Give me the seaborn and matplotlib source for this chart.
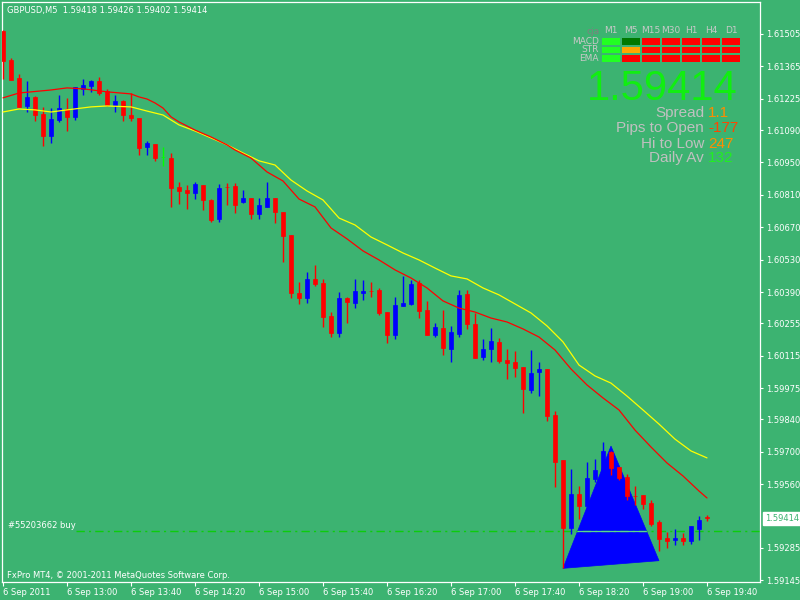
#!/usr/bin/env python3
# coding: utf-8

import numpy as np
import pandas as pd
import seaborn as sns
import matplotlib.pyplot as plt
from matplotlib.colors import ListedColormap
from matplotlib.patches import Polygon

# ------------------------------------------------
# Data (GBPUSD M5, 6 Sep 2011)
# ------------------------------------------------
symbol = "GBPUSD,M5"
times = pd.date_range("2011-09-06 12:20", "2011-09-06 19:40", freq="5min")

opens = [1.61518, 1.61393, 1.61315, 1.61194, 1.61233, 1.61160, 1.61066, 1.61134, 1.61181, 1.61147,
         1.61268, 1.61281, 1.61302, 1.61259, 1.61198, 1.61216, 1.61155, 1.61142, 1.61017, 1.61030,
         1.60974, 1.60970, 1.60844, 1.60831, 1.60820, 1.60853, 1.60788, 1.60707, 1.60844, 1.60848,
         1.60781, 1.60797, 1.60729, 1.60759, 1.60797, 1.60736, 1.60637, 1.60386, 1.60366, 1.60447,
         1.60429, 1.60288, 1.60215, 1.60366, 1.60343, 1.60386, 1.60395, 1.60399, 1.60305, 1.60206,
         1.60331, 1.60339, 1.60429, 1.60313, 1.60206, 1.60235, 1.60146, 1.60210, 1.60382, 1.60252,
         1.60111, 1.60146, 1.60176, 1.60098, 1.60089, 1.60068, 1.59968, 1.60046, 1.60059, 1.59859,
         1.59665, 1.59372, 1.59518, 1.59467, 1.59584, 1.59622, 1.59699, 1.59635, 1.59593, 1.59511,
         1.59514, 1.59479, 1.59398, 1.59329, 1.59320, 1.59329, 1.59316, 1.59368, 1.59418]
highs = [1.61522, 1.61401, 1.61332, 1.61302, 1.61237, 1.61190, 1.61185, 1.61242, 1.61229, 1.61275,
         1.61311, 1.61306, 1.61319, 1.61268, 1.61242, 1.61220, 1.61250, 1.61142, 1.61043, 1.61030,
         1.61017, 1.60991, 1.60866, 1.60853, 1.60866, 1.60853, 1.60792, 1.60857, 1.60861, 1.60861,
         1.60831, 1.60797, 1.60797, 1.60866, 1.60797, 1.60736, 1.60637, 1.60434, 1.60477, 1.60507,
         1.60447, 1.60304, 1.60392, 1.60370, 1.60447, 1.60442, 1.60434, 1.60408, 1.60305, 1.60369,
         1.60460, 1.60442, 1.60442, 1.60352, 1.60257, 1.60313, 1.60244, 1.60399, 1.60399, 1.60300,
         1.60188, 1.60235, 1.60192, 1.60146, 1.60137, 1.60068, 1.60141, 1.60089, 1.60059, 1.59877,
         1.59665, 1.59626, 1.59552, 1.59656, 1.59670, 1.59743, 1.59704, 1.59635, 1.59606, 1.59552,
         1.59514, 1.59492, 1.59407, 1.59354, 1.59368, 1.59351, 1.59381, 1.59424, 1.59426]
lows = [1.61311, 1.61306, 1.61190, 1.61168, 1.61131, 1.61023, 1.61036, 1.61125, 1.61086, 1.61135,
        1.61242, 1.61255, 1.61242, 1.61194, 1.61168, 1.61129, 1.61129, 1.60982, 1.60982, 1.60958,
        1.60935, 1.60759, 1.60772, 1.60750, 1.60794, 1.60746, 1.60694, 1.60694, 1.60766, 1.60733,
        1.60776, 1.60707, 1.60707, 1.60759, 1.60690, 1.60521, 1.60366, 1.60340, 1.60344, 1.60418,
        1.60241, 1.60197, 1.60197, 1.60258, 1.60323, 1.60357, 1.60369, 1.60293, 1.60172, 1.60189,
        1.60331, 1.60334, 1.60280, 1.60206, 1.60197, 1.60120, 1.60089, 1.60197, 1.60232, 1.60107,
        1.60098, 1.60089, 1.60085, 1.60016, 1.60025, 1.59869, 1.59955, 1.59943, 1.59835, 1.59550,
        1.59200, 1.59346, 1.59411, 1.59449, 1.59570, 1.59613, 1.59601, 1.59580, 1.59493, 1.59472,
        1.59454, 1.59381, 1.59273, 1.59286, 1.59299, 1.59299, 1.59303, 1.59320, 1.59402]
closes = [1.61390, 1.61306, 1.61191, 1.61233, 1.61155, 1.61066, 1.61138, 1.61185, 1.61147, 1.61275,
          1.61285, 1.61302, 1.61249, 1.61198, 1.61216, 1.61155, 1.61142, 1.61013, 1.61034, 1.60971,
          1.60974, 1.60841, 1.60828, 1.60820, 1.60857, 1.60789, 1.60703, 1.60840, 1.60842, 1.60768,
          1.60797, 1.60729, 1.60766, 1.60797, 1.60737, 1.60634, 1.60388, 1.60366, 1.60447, 1.60426,
          1.60284, 1.60215, 1.60366, 1.60349, 1.60395, 1.60395, 1.60393, 1.60301, 1.60206, 1.60334,
          1.60343, 1.60425, 1.60310, 1.60206, 1.60239, 1.60150, 1.60218, 1.60378, 1.60254, 1.60107,
          1.60146, 1.60180, 1.60094, 1.60085, 1.60064, 1.59973, 1.60042, 1.60059, 1.59856, 1.59657,
          1.59372, 1.59518, 1.59467, 1.59588, 1.59623, 1.59704, 1.59631, 1.59588, 1.59511, 1.59509,
          1.59476, 1.59390, 1.59325, 1.59316, 1.59329, 1.59316, 1.59381, 1.59407, 1.59414]

# moving averages, sampled along the drawn lines (bar index, price)
ma_red_bar = [0, 2, 6, 8, 10, 13, 16, 17, 18, 19, 20, 21, 22, 24, 26, 28, 29, 31, 33, 35, 37, 39,
              41, 43, 45, 47, 49, 51, 53, 55, 57, 59, 61, 63, 65, 67, 69, 71, 73, 75, 77, 79, 81,
              83, 85, 87, 88]
ma_red = [1.61229, 1.61250, 1.61263, 1.61272, 1.61268, 1.61255, 1.61246, 1.61233, 1.61224, 1.61207,
          1.61185, 1.61147, 1.61125, 1.61090, 1.61060, 1.61026, 1.61004, 1.60969, 1.60909, 1.60870,
          1.60792, 1.60758, 1.60667, 1.60620, 1.60568, 1.60529, 1.60486, 1.60451, 1.60408, 1.60352,
          1.60321, 1.60304, 1.60278, 1.60261, 1.60231, 1.60196, 1.60140, 1.60058, 1.59989, 1.59933,
          1.59881, 1.59794, 1.59721, 1.59652, 1.59596, 1.59531, 1.59501]
ma_yellow_bar = [0, 2, 4, 6, 8, 11, 13, 16, 18, 20, 22, 24, 26, 28, 30, 32, 34, 36, 38, 40, 42, 44,
                 46, 48, 50, 52, 54, 56, 58, 60, 62, 64, 66, 68, 70, 72, 74, 76, 78, 80, 82, 84,
                 86, 88]
ma_yellow = [1.61168, 1.61181, 1.61177, 1.61168, 1.61177, 1.61190, 1.61194, 1.61190, 1.61172,
             1.61155, 1.61112, 1.61086, 1.61056, 1.61026, 1.60991, 1.60957, 1.60939, 1.60874,
             1.60827, 1.60788, 1.60710, 1.60680, 1.60628, 1.60594, 1.60559, 1.60529, 1.60494,
             1.60460, 1.60447, 1.60408, 1.60378, 1.60339, 1.60300, 1.60244, 1.60175, 1.60075,
             1.60028, 1.59997, 1.59941, 1.59881, 1.59820, 1.59755, 1.59704, 1.59674]

# triangle object and open order
tri_bar = [70, 76, 82]
tri_price = [1.59197, 1.59725, 1.59230]
order_price = 1.59358
order_label = "#55203662 buy"

# axis ticks
ytick_vals = [1.61505, 1.61365, 1.61225, 1.61090, 1.60950, 1.60810, 1.60670, 1.60530, 1.60390,
              1.60255, 1.60115, 1.59975, 1.59840, 1.59700, 1.59560, 1.59285, 1.59145]
xtick_bars = [0, 8, 16, 24, 32, 40, 48, 56, 64, 72, 80, 88]
xtick_labels = ["6 Sep 2011", "6 Sep 13:00", "6 Sep 13:40", "6 Sep 14:20", "6 Sep 15:00",
                "6 Sep 15:40", "6 Sep 16:20", "6 Sep 17:00", "6 Sep 17:40", "6 Sep 18:20",
                "6 Sep 19:00", "6 Sep 19:40"]

# signal panel (0 = down, 1 = weak, 2 = neutral up, 3 = up)
timeframes = ["M1", "M5", "M15", "M30", "H1", "H4", "D1"]
signal_rows = ["MACD", "STR", "EMA"]
macd_sig = [3, 2, 0, 0, 0, 0, 0]
str_sig = [3, 1, 0, 0, 0, 0, 0]
ema_sig = [3, 0, 0, 0, 0, 0, 0]

info_labels = ["Spread", "Pips to Open", "Hi to Low", "Daily Av"]
info_values = ["1.1", "-177", "247", "132"]
info_colors = ["#FF8C00", "#FF4500", "#FF8C00", "#22EE22"]

# ------------------------------------------------
# Style
# ------------------------------------------------
BG = "#3CB371"
sns.set_theme(style="white", rc={
    "axes.facecolor": BG, "figure.facecolor": BG, "savefig.facecolor": BG,
    "axes.edgecolor": "white", "axes.linewidth": 0.9,
    "xtick.color": "white", "ytick.color": "white", "text.color": "white",
})
plt.rcParams["font.family"] = ["DejaVu Sans"]

fig = plt.figure(figsize=(8, 6), dpi=100)
ax = fig.add_axes([2 / 800, 18 / 600, 758 / 800, 580 / 600])

df = pd.DataFrame({"time": times, "open": opens, "high": highs, "low": lows, "close": closes})
df["bar"] = np.arange(len(df))
df["color"] = np.where(df.close > df.open, "#0000FF",
                       np.where(df.close < df.open, "#FF0000", "#00FF00"))

# triangle in the background
tri = Polygon(np.column_stack([tri_bar, tri_price]), closed=True, fc="#0000FF", ec="#0000FF",
              lw=0.5, zorder=1)
ax.add_patch(tri)

# order line (dash-dot), lighter where it crosses the triangle
ax.axhline(order_price, xmin=74 / 758, color="#0CCC0C", lw=1.0,
           ls=(0, (6, 3, 1.5, 3)), zorder=2)
inner = ax.axhline(order_price, color="#5CD88E", lw=0.9, zorder=2)
inner.set_clip_path(tri)

# candles
ax.vlines(df.bar, df.low, df.high, colors=df.color, lw=1.0, zorder=3)
body_lo = np.minimum(df.open, df.close)
body_h = (df.close - df.open).abs()
ax.bar(df.bar, body_h, bottom=body_lo, width=0.62, color=df.color,
       edgecolor=df.color, lw=0.5, zorder=4)

# moving averages
sns.lineplot(x=ma_yellow_bar, y=ma_yellow, color="#FFFF00", lw=0.9, ax=ax, zorder=5)
sns.lineplot(x=ma_red_bar, y=ma_red, color="#FF0000", lw=0.9, ax=ax, zorder=5)

ax.set_xlim(-0.125, 94.625)
ax.set_ylim(1.59138, 1.61643)
ax.grid(False)
for s in ax.spines.values():
    s.set_color("white")

ax.yaxis.tick_right()
ax.set_yticks(ytick_vals)
ax.set_yticklabels([f"{v:.5f}" for v in ytick_vals])
ax.set_xticks(xtick_bars)
ax.set_xticklabels(xtick_labels)
for lab in ax.get_xticklabels():
    lab.set_ha("left")
ax.tick_params(axis="y", direction="out", length=2.5, width=0.8, pad=2, labelsize=6,
               right=True, left=False)
ax.tick_params(axis="x", direction="out", length=3, width=0.8, pad=1.5, labelsize=6,
               bottom=True)

# current price box on the scale
ax.text(1.0 + 5 / 758, closes[-1], f"{closes[-1]:.5f}", transform=ax.get_yaxis_transform(),
        ha="left", va="center", fontsize=6, color=BG, clip_on=False,
        bbox=dict(boxstyle="square,pad=0.25", fc="white", ec="white"))

# ------------------------------------------------
# Texts
# ------------------------------------------------
fig.text(7 / 800, 1 - 10 / 600,
         f"{symbol}  {opens[-1]:.5f} {highs[-1]:.5f} {lows[-1]:.5f} {closes[-1]:.5f}",
         fontsize=6, va="center", ha="left", color="white")
fig.text(7 / 800, 1 - 575 / 600, "FxPro MT4, \u00a9 2001-2011 MetaQuotes Software Corp.",
         fontsize=6, va="center", ha="left", color="white")
fig.text(8 / 800, 1 - 525 / 600, order_label, fontsize=6, va="center", ha="left",
         color="white")

# signal panel
sig = pd.DataFrame([macd_sig, str_sig, ema_sig], index=signal_rows, columns=timeframes)
sig_cmap = ListedColormap(["#FF0000", "#FFA500", "#007800", "#22FF22"])
hax = fig.add_axes([601 / 800, 1 - 62.5 / 600, 140 / 800, 25.5 / 600])
sns.heatmap(sig, cmap=sig_cmap, vmin=-0.5, vmax=3.5, cbar=False, linewidths=1.4,
            linecolor=BG, xticklabels=timeframes, yticklabels=signal_rows, ax=hax)
hax.xaxis.tick_top()
hax.tick_params(length=0, labelsize=6.5, pad=1.5, colors="#C8C8C8")
plt.setp(hax.get_yticklabels(), rotation=0)
plt.setp(hax.get_xticklabels(), rotation=0)
hax.set_xlabel("")
hax.set_ylabel("")
fig.text(593 / 800, 1 - 31 / 600, "cja", fontsize=6.5, color="#808080", ha="center",
         va="center")

# big price and info lines
fig.text(738 / 800, 1 - 100 / 600, f"{closes[-1]:.5f}", fontsize=30, color="#11EE11",
         ha="right", va="baseline", family=["Liberation Sans", "DejaVu Sans"])
base = [117, 132, 147.5, 162.5]
for lab, val, col, b in zip(info_labels, info_values, info_colors, base):
    fig.text(704 / 800, 1 - b / 600, lab, fontsize=11, color="#C0C0C0", ha="right",
             va="baseline", family=["Liberation Sans", "DejaVu Sans"])
    fig.text(708 / 800, 1 - b / 600, val, fontsize=11, color=col, ha="left",
             va="baseline", family=["Liberation Sans", "DejaVu Sans"])

fig.savefig("out.png", dpi=100)
